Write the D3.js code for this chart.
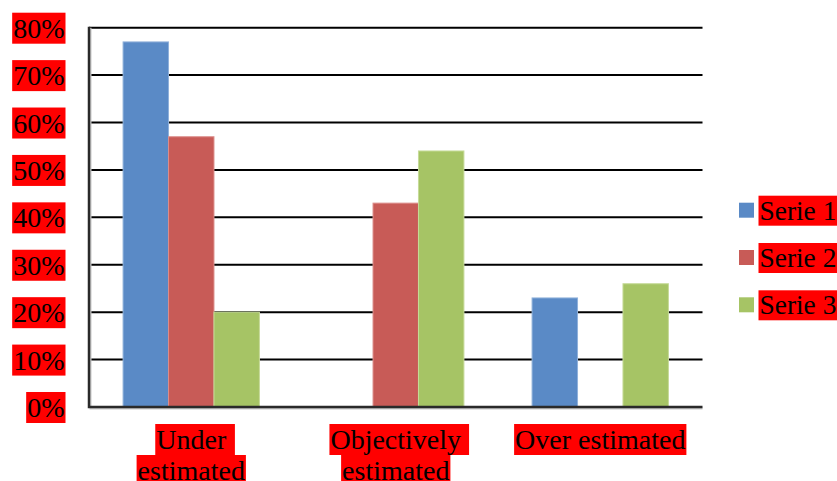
<!DOCTYPE html>
<html>
<head>
<meta charset="utf-8">
<script src="https://cdn.jsdelivr.net/npm/d3@7"></script>
<style>
  html, body { margin: 0; padding: 0; background: #fff; }
  svg { display: block; }
  text { font-family: "Liberation Serif", "Times New Roman", serif; font-size: 28px; fill: #000; }
  .legend text { font-size: 27.4px; }
</style>
</head>
<body>
<svg id="chart" width="837" height="481"></svg>
<script>
// Share of respondents per estimate category, one array per series
const categories = ["Under estimated", "Objectively estimated", "Over estimated"];
const seriesNames = ["Serie 1", "Serie 2", "Serie 3"];
const serie1 = [0.77, 0, 0.23];
const serie2 = [0.57, 0.43, 0];
const serie3 = [0.20, 0.54, 0.26];
const yTicks = [0, 0.1, 0.2, 0.3, 0.4, 0.5, 0.6, 0.7, 0.8];
const colors = ["#5A8AC6", "#C85B57", "#A6C465"];
const edgeColors = ["#8FB0DA", "#DC8E8B", "#C6DA98"];

const seriesValues = [serie1, serie2, serie3];

const svg = d3.select("#chart");
const plot = { left: 89, right: 702.5, top: 27.7, bottom: 407 };

const x0 = d3.scaleBand().domain(categories).range([plot.left, plot.right]).padding(0);
const x1 = d3.scaleBand().domain(seriesNames).range([0, x0.bandwidth()])
  .paddingInner(0).paddingOuter(0.75);
const y = d3.scaleLinear().domain([0, 0.8]).range([plot.bottom, plot.top]);

const pct = d3.format(".0%");

// Horizontal gridlines
svg.append("g")
  .selectAll("line")
  .data(yTicks.filter(d => d > 0))
  .join("line")
  .attr("x1", plot.left).attr("x2", plot.right)
  .attr("y1", d => y(d)).attr("y2", d => y(d))
  .attr("stroke", "#000").attr("stroke-width", 2);

// Bars, grouped by category
const rows = categories.map((c, i) => ({
  cat: c,
  vals: seriesNames.map((s, j) => ({ s, j, v: seriesValues[j][i] }))
}));

svg.append("g")
  .selectAll("g")
  .data(rows)
  .join("g")
  .attr("transform", d => `translate(${x0(d.cat)},0)`)
  .selectAll("rect")
  .data(d => d.vals.filter(e => e.v > 0))
  .join("rect")
  .attr("x", d => x1(d.s))
  .attr("width", x1.bandwidth())
  .attr("y", d => y(d.v))
  .attr("height", d => y(0) - y(d.v))
  .attr("fill", d => colors[d.j])
  .attr("stroke", d => edgeColors[d.j])
  .attr("stroke-width", 1);

// Axis lines with a soft shadow
svg.append("path")
  .attr("d", `M${plot.left + 1.5},${plot.top} V${plot.bottom + 1.5} H${plot.right}`)
  .attr("fill", "none").attr("stroke", "#c8c8c8").attr("stroke-width", 2);
svg.append("path")
  .attr("d", `M${plot.left},${plot.top - 1} V${plot.bottom} H${plot.right}`)
  .attr("fill", "none").attr("stroke", "#2a2a2a").attr("stroke-width", 2.5);

// Text with a red highlight box behind it
function highlighted(g, str, xPos, yBase, anchor, extraRight) {
  const grp = g.append("g");
  const rect = grp.append("rect").attr("fill", "#FF0000");
  const t = grp.append("text")
    .attr("x", xPos).attr("y", yBase)
    .attr("text-anchor", anchor)
    .text(str);
  const b = t.node().getBBox();
  rect.attr("x", b.x - 1).attr("y", b.y)
    .attr("width", b.width + 2 + (extraRight || 0)).attr("height", b.height);
  return t;
}

// Y axis labels
const yLab = svg.append("g");
yTicks.forEach(d => highlighted(yLab, pct(d), 64.5, y(d) + 10, "end"));

// Category labels, wrapped to fit their band
const xLab = svg.append("g");
const measure = svg.append("text").attr("visibility", "hidden");
const textWidth = s => { measure.text(s); return measure.node().getComputedTextLength(); };
const spaceW = textWidth("a b") - textWidth("ab");
const maxW = x0.step() * 0.87;
categories.forEach(c => {
  const words = c.split(" ");
  const lines = [];
  let cur = "";
  words.forEach(w => {
    const trial = cur ? cur + " " + w : w;
    if (cur && textWidth(trial) > maxW) { lines.push(cur); cur = w; }
    else cur = trial;
  });
  lines.push(cur);
  const cx = x0(c) + x0.bandwidth() / 2;
  lines.forEach((ln, i) => {
    const extra = i < lines.length - 1 ? spaceW : 0;
    highlighted(xLab, ln, cx, 449 + i * 31, "middle", extra);
  });
});
measure.remove();

// Legend
const legend = svg.append("g").attr("class", "legend");
seriesNames.forEach((s, j) => {
  const cy = 210.2 + j * 47.3;
  legend.append("rect")
    .attr("x", 739).attr("y", cy - 7.5)
    .attr("width", 15).attr("height", 15)
    .attr("fill", colors[j]);
  highlighted(legend, s, 759.5, cy + 9.5, "start");
});
</script>
</body>
</html>
